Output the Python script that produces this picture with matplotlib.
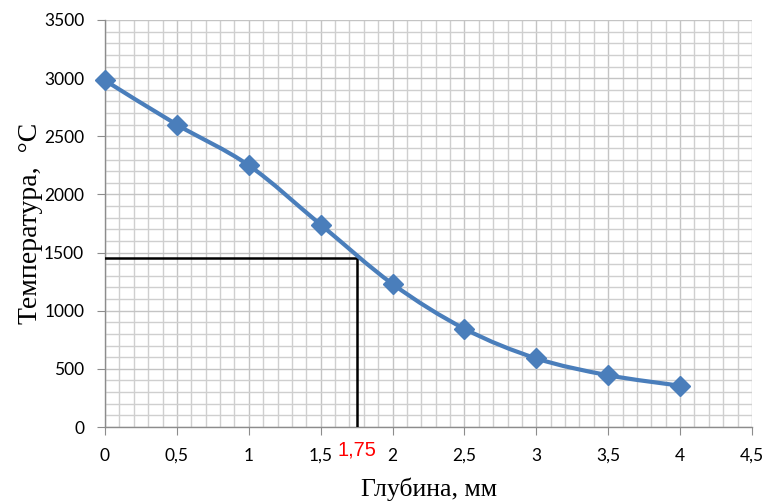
import matplotlib
matplotlib.use("Agg")
import matplotlib.pyplot as plt
from matplotlib.path import Path
from matplotlib.patches import PathPatch
from matplotlib.ticker import MultipleLocator, FuncFormatter
import numpy as np

# --- data ---
depth = [0, 0.5, 1, 1.5, 2, 2.5, 3, 3.5, 4]
temp = [2980, 2600, 2250, 1740, 1230, 845, 590, 445, 355]
mark_x = 1.75
mark_y = 1450
mark_label = "1,75"


def smooth_path(x, y, t=1/6):
    # Catmull-Rom style bezier through the points (like Excel "smoothed line")
    x = np.asarray(x, float)
    y = np.asarray(y, float)
    verts = [(x[0], y[0])]
    codes = [Path.MOVETO]
    n = len(x)
    for i in range(n - 1):
        x0, y0 = (x[i - 1], y[i - 1]) if i > 0 else (x[i], y[i])
        x3, y3 = (x[i + 2], y[i + 2]) if i + 2 < n else (x[i + 1], y[i + 1])
        c1 = (x[i] + (x[i + 1] - x0) * t, y[i] + (y[i + 1] - y0) * t)
        c2 = (x[i + 1] - (x3 - x[i]) * t, y[i + 1] - (y3 - y[i]) * t)
        verts += [c1, c2, (x[i + 1], y[i + 1])]
        codes += [Path.CURVE4] * 3
    return Path(verts, codes)


fig = plt.figure(figsize=(7.67, 5.04), dpi=100)
ax = fig.add_axes([105 / 767, 1 - 427 / 504, 647 / 767, 407 / 504])

ax.set_xlim(0, 4.5)
ax.set_ylim(0, 3500)

ax.xaxis.set_major_locator(MultipleLocator(0.5))
ax.xaxis.set_minor_locator(MultipleLocator(0.1))
ax.yaxis.set_major_locator(MultipleLocator(500))
ax.yaxis.set_minor_locator(MultipleLocator(100))
ax.xaxis.set_major_formatter(FuncFormatter(lambda v, p: f"{v:g}".replace(".", ",")))

ax.grid(which="major", color="#c4c4c4", linewidth=1.0, zorder=0)
ax.grid(which="minor", color="#cfcfcf", linewidth=1.0, zorder=0)
ax.set_axisbelow(True)

for s in ("top", "right"):
    ax.spines[s].set_visible(False)
for s in ("left", "bottom"):
    ax.spines[s].set_color("#8c8c8c")
    ax.spines[s].set_linewidth(1.0)

ax.tick_params(which="major", direction="out", length=6, color="#8c8c8c",
               labelsize=12.5, pad=9)
ax.tick_params(which="minor", length=0)
for lab in ax.get_xticklabels() + ax.get_yticklabels():
    lab.set_fontfamily("Lato")

# reading lines
ax.plot([0, mark_x], [mark_y, mark_y], color="black", linewidth=1.8, zorder=3)
ax.plot([mark_x, mark_x], [0, mark_y], color="black", linewidth=1.8, zorder=3)

# smoothed curve + markers
ax.add_patch(PathPatch(smooth_path(depth, temp), facecolor="none",
                       edgecolor="#4a7ebb", linewidth=3.0, zorder=4))
ax.plot(depth, temp, linestyle="none", marker="D", markersize=10,
        color="#4a7ebb", zorder=5, clip_on=False)

ax.text(mark_x, -195, mark_label, color="red", fontsize=14.5,
        fontfamily="Liberation Sans", ha="center", va="center")

ax.set_xlabel("Глубина, мм", fontsize=18.5, fontfamily="Liberation Serif", labelpad=10)
ax.set_ylabel("Температура,  °С", fontsize=20, fontfamily="Liberation Serif", labelpad=1)

fig.savefig("out.png", dpi=100)
